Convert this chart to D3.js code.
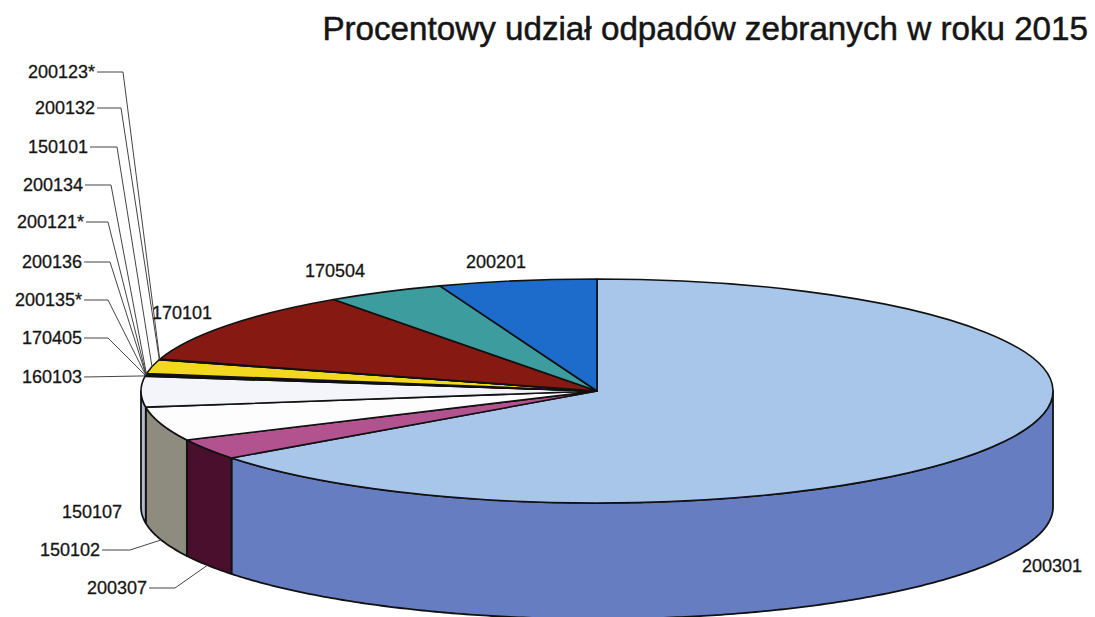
<!DOCTYPE html>
<html><head><meta charset="utf-8">
<script src="https://cdn.jsdelivr.net/npm/d3@7"></script>
<style>
body{margin:0;background:#fff}
svg{display:block}
text{font-family:"Liberation Sans",Arial,sans-serif;fill:#151515}
</style>
</head><body>
<svg id="c" width="1095" height="617"></svg>
<script>
// ---- data ----
const title = "Procentowy udział odpadów zebranych w roku 2015";
const categories = ["200301","200307","150102","150107","160103","170405","200135*","200136","200121*","200134","150101","200132","200123*","170101","170504","200201"];
const values = [64.8, 3.0, 4.9, 4.4, 0.1, 0.05, 0.05, 0.05, 0.05, 0.1, 2.0, 0.05, 0.05, 10.6, 4.2, 5.6];

// ---- style ----
const topColors = ["#a8c6ea","#b25390","#fdfdfd","#f3f5fa","#5a0a50","#f08080","#0066cc","#ccccff","#000080","#ff00ff","#f2d81e","#00cccc","#800080","#861a12","#3c9c9e","#1d6ccc"];
const sideColors = ["#677dc2","#4b0f2e","#8e8c7e","#b0bccb","#3a0634","#b05050","#004c99","#9999cc","#000060","#b000b0","#b8a010","#009999","#600060","#5a0f0a","#2a7072","#134c96"];

// label layout: text position, anchor, optional elbow x, leader on/off
const labelLayout = {
  "200123*": {x:95,  y:72,  anchor:"end", elbow:123, leader:"top"},
  "200132":  {x:95,  y:108, anchor:"end", elbow:121, leader:"top"},
  "150101":  {x:88,  y:147, anchor:"end", elbow:117, leader:"top"},
  "200134":  {x:83,  y:185, anchor:"end", elbow:111, leader:"top"},
  "200121*": {x:84,  y:222, anchor:"end", elbow:108, leader:"top"},
  "200136":  {x:82,  y:262, anchor:"end", elbow:110, leader:"top"},
  "200135*": {x:82,  y:300, anchor:"end", elbow:108, leader:"top"},
  "170405":  {x:82,  y:338, anchor:"end", elbow:108, leader:"top"},
  "160103":  {x:82,  y:377, anchor:"end", elbow:null, leader:"top"},
  "150107":  {x:62,  y:512, anchor:"start"},
  "150102":  {x:100, y:550, anchor:"end", elbow:130, leader:"bottom"},
  "200307":  {x:147, y:588, anchor:"end", elbow:175, leader:"bottom"},
  "200301":  {x:1022,y:566, anchor:"start"},
  "170101":  {x:152, y:313, anchor:"start"},
  "170504":  {x:305, y:271, anchor:"start"},
  "200201":  {x:466, y:262, anchor:"start"}
};

const cx = 597, cy = 391, rx = 456, ry = 112, depth = 116;

const svg = d3.select("#c");
svg.append("rect").attr("width",1095).attr("height",617).attr("fill","#fff");

svg.append("text")
  .attr("x", 1088).attr("y", 40)
  .attr("text-anchor", "end")
  .attr("font-size", 33.2)
  .attr("stroke", "#151515").attr("stroke-width", 0.5)
  .text(title);

const pie = d3.pie().sort(null).value(d => d)(values);
const P = (a, dz = 0) => [cx + rx * Math.sin(a), cy - ry * Math.cos(a) + dz];
const line = d3.line();

// sides (front half only)
const sides = svg.append("g");
pie.forEach((s, i) => {
  const lo = Math.max(s.startAngle, Math.PI / 2), hi = Math.min(s.endAngle, 3 * Math.PI / 2);
  if (hi <= lo) return;
  const n = Math.max(2, Math.ceil((hi - lo) / 0.01));
  const as = d3.range(n + 1).map(k => lo + (hi - lo) * k / n);
  const pts = as.map(a => P(a)).concat(as.slice().reverse().map(a => P(a, depth)));
  sides.append("path")
    .attr("d", line(pts) + "Z")
    .attr("fill", sideColors[i])
    .attr("stroke", "#111").attr("stroke-width", 1.8).attr("stroke-linejoin","round");
});

// tops
const arc = d3.arc().innerRadius(0).outerRadius(rx);
svg.append("g")
  .attr("transform", `translate(${cx},${cy}) scale(1,${ry / rx})`)
  .selectAll("path").data(pie).join("path")
  .attr("d", arc)
  .attr("fill", (d, i) => topColors[i])
  .attr("stroke", "#111").attr("stroke-width", 1.6)
  .attr("stroke-linejoin","round")
  .attr("vector-effect", "non-scaling-stroke");

// labels + leaders
const lg = svg.append("g");
pie.forEach((s, i) => {
  const name = categories[i];
  const L = labelLayout[name];
  if (!L) return;
  lg.append("text")
    .attr("x", L.x).attr("y", L.y).attr("dy", "0.35em")
    .attr("text-anchor", L.anchor)
    .attr("font-size", 18)
    .attr("stroke", "#151515").attr("stroke-width", 0.3)
    .text(name);
  if (L.leader) {
    const mid = (s.startAngle + s.endAngle) / 2;
    const end = L.leader === "top" ? P(mid) : P(mid, depth);
    const pts = [[L.x + 2, L.y]];
    if (L.elbow) pts.push([L.elbow, L.y]);
    pts.push(end);
    lg.append("path").attr("d", line(pts))
      .attr("fill", "none").attr("stroke", "#444").attr("stroke-width", 1);
  }
});
</script>
</body></html>
